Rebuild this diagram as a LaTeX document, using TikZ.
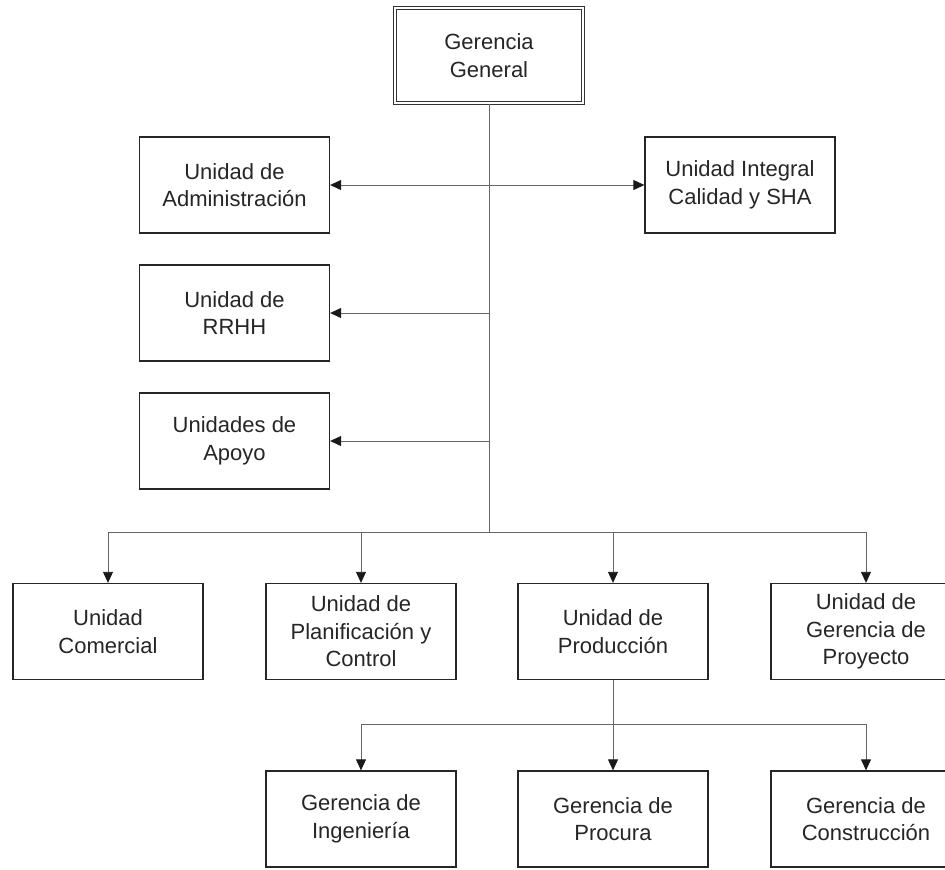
\documentclass[tikz,border=0pt]{standalone}
\usepackage{fontspec}
\setmainfont{Liberation Sans}
\usetikzlibrary{arrows.meta}
\begin{document}
\begin{tikzpicture}[x=1pt,y=-1pt,
  unitbox/.style={draw=black!85, line width=1.3pt, fill=white, align=center,
    minimum width=190pt, minimum height=96pt, inner sep=0pt,
    font=\fontsize{22}{27.5}\selectfont, text=black!85},
  topbox/.style={unitbox, minimum width=188pt, minimum height=95pt,
    draw=black!80, double=white, double distance=2.6pt, line width=1.1pt},
  link/.style={draw=black!60, line width=0.8pt},
  arrowlink/.style={link, -{Triangle[length=11pt,width=10pt,color=black!90]}},
]
\useasboundingbox (0,0) rectangle (945,870);
\begin{scope}
\clip (0,0) rectangle (945,870);

% top of the organisation
\node[topbox] (gg) at (489,55.5) {Gerencia\\General};

% staff units along the central spine
\node[unitbox] (adm) at (234.5,185) {Unidad de\\Administración};
\node[unitbox] (cal) at (740,185) {Unidad Integral\\Calidad y SHA};
\node[unitbox] (rrhh) at (234.5,313) {Unidad de\\RRHH};
\node[unitbox] (apo) at (234.5,441) {Unidades de\\Apoyo};

% line units
\node[unitbox] (com) at (108,631.5) {Unidad\\Comercial};
\node[unitbox] (pla) at (361,631.5) {Unidad de\\Planificación y\\Control};
\node[unitbox] (prod) at (613,631.5) {Unidad de\\Producción};
\node[unitbox] (proy) at (866,631.5) {Unidad de\\Gerencia de\\Proyecto};

% production managements
\node[unitbox] (ing) at (361,819) {Gerencia de\\Ingeniería};
\node[unitbox] (proc) at (613,819) {Gerencia de\\Procura};
\node[unitbox] (cons) at (866,819) {Gerencia de\\Construcción};

% spine and branches
\coordinate (bus) at (489,532);
\draw[link] (gg.south) -- (bus);
\draw[arrowlink] (gg.south |- adm.east) -- (adm.east);
\draw[arrowlink] (gg.south |- cal.west) -- (cal.west);
\draw[arrowlink] (gg.south |- rrhh.east) -- (rrhh.east);
\draw[arrowlink] (gg.south |- apo.east) -- (apo.east);

% distribution bar to line units
\draw[link] (com.north |- bus) -- (proy.north |- bus);
\foreach \n in {com,pla,prod,proy}
  \draw[arrowlink] (\n.north |- bus) -- (\n.north);

% distribution bar below production
\coordinate (bus2) at (613,724);
\draw[link] (prod.south) -- (bus2);
\draw[link] (ing.north |- bus2) -- (cons.north |- bus2);
\foreach \n in {ing,proc,cons}
  \draw[arrowlink] (\n.north |- bus2) -- (\n.north);
\end{scope}
\end{tikzpicture}
\end{document}
